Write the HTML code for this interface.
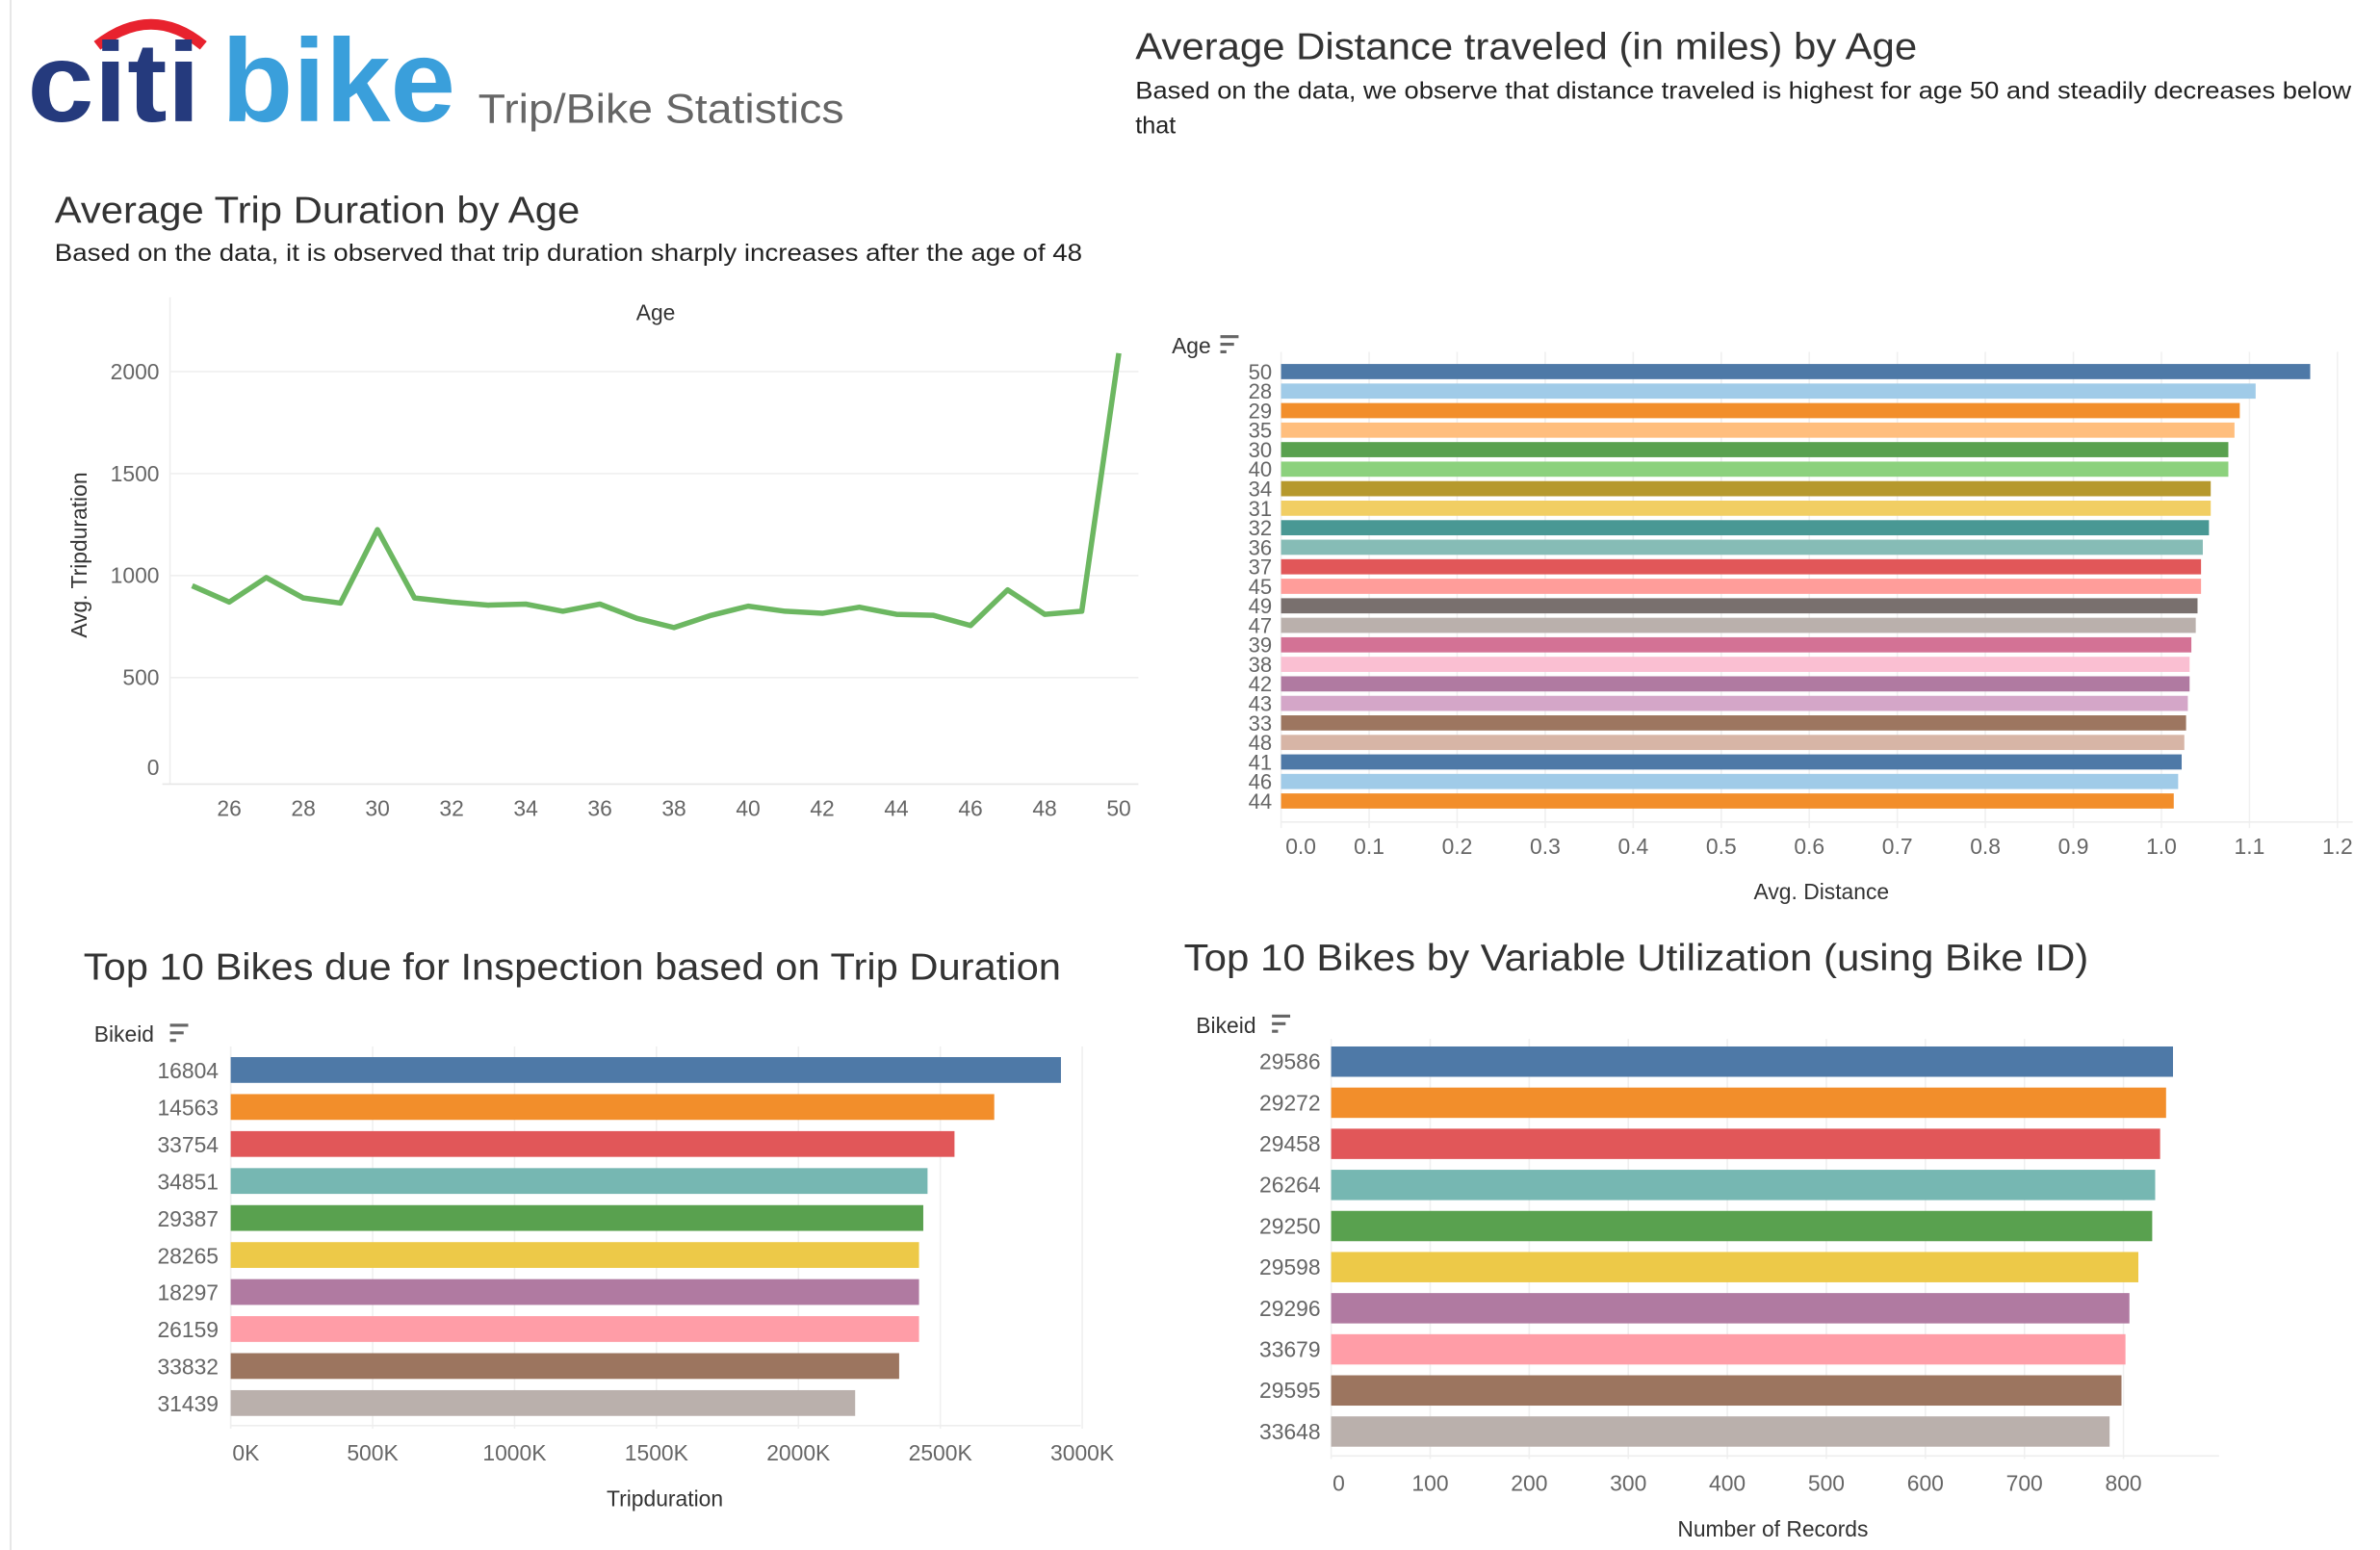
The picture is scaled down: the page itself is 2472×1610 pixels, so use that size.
<!DOCTYPE html>
<html><head><meta charset="utf-8"><style>
html,body{margin:0;padding:0;background:#fff;}
svg{display:block;font-family:"Liberation Sans",sans-serif;}
</style></head><body>
<svg id="root" width="2472" height="1610" viewBox="0 0 1568 1022" preserveAspectRatio="none" xmlns="http://www.w3.org/2000/svg">
<line x1="7" y1="0" x2="7" y2="1022" stroke="#e0e0e0" stroke-width="1"/>
<g>
  <path d="M64 30 Q100 2 134 30" fill="none" stroke="#e8222e" stroke-width="7"/>
  <text x="18" y="80" font-size="74" font-weight="bold" fill="#253a7d" textLength="114" lengthAdjust="spacingAndGlyphs">citi</text>
  <text x="146" y="80" font-size="78" font-weight="bold" fill="#3a9fdb" textLength="154" lengthAdjust="spacingAndGlyphs">bike</text>
</g>
<text x="315" y="81" font-size="27" fill="#666" textLength="241" lengthAdjust="spacingAndGlyphs">Trip/Bike Statistics</text>

<text x="36" y="147" font-size="25" fill="#333" textLength="346" lengthAdjust="spacingAndGlyphs">Average Trip Duration by Age</text>
<text x="36" y="172" font-size="16" fill="#222" textLength="677" lengthAdjust="spacingAndGlyphs">Based on the data, it is observed that trip duration sharply increases after the age of 48</text>

<text x="748" y="39" font-size="25" fill="#333" textLength="515" lengthAdjust="spacingAndGlyphs">Average Distance traveled (in miles) by Age</text>
<text x="748" y="65" font-size="16" fill="#222" textLength="801" lengthAdjust="spacingAndGlyphs">Based on the data, we observe that distance traveled is highest for age 50 and steadily decreases below</text>
<text x="748" y="88" font-size="16" fill="#222">that</text>

<text x="55" y="646" font-size="25" fill="#333" textLength="644" lengthAdjust="spacingAndGlyphs">Top 10 Bikes due for Inspection based on Trip Duration</text>
<text x="780" y="640" font-size="25" fill="#333" textLength="596" lengthAdjust="spacingAndGlyphs">Top 10 Bikes by Variable Utilization (using Bike ID)</text>

<g id="c1"></g><g id="c2"></g><g id="c3"></g><g id="c4"></g>
</svg>
<script>
// Chart 1: line
const ages = [25,26,27,28,29,30,31,32,33,34,35,36,37,38,39,40,41,42,43,44,45,46,47,48,49,50];
const durations = [950,870,990,890,865,1225,890,870,855,860,825,860,790,745,805,850,825,815,845,810,805,755,930,810,825,2090];
const durTicks = [0,500,1000,1500,2000];
const ageTicks = [26,28,30,32,34,36,38,40,42,44,46,48,50];
// Chart 2: distance
const distAges = ['50','28','29','35','30','40','34','31','32','36','37','45','49','47','39','38','42','43','33','48','41','46','44'];
const distances = [1.169,1.107,1.089,1.083,1.076,1.076,1.056,1.056,1.054,1.047,1.045,1.045,1.041,1.039,1.034,1.032,1.032,1.030,1.028,1.026,1.023,1.019,1.014];
const distTicks = [0,0.1,0.2,0.3,0.4,0.5,0.6,0.7,0.8,0.9,1.0,1.1,1.2];
// Chart 3: trip duration by bike
const bikes3 = ['16804','14563','33754','34851','29387','28265','18297','26159','33832','31439'];
const tripDur = [2925000,2690000,2550000,2455000,2440000,2425000,2425000,2425000,2355000,2200000];
const tdTicks = [0,500000,1000000,1500000,2000000,2500000,3000000];
// Chart 4: records by bike
const bikes4 = ['29586','29272','29458','26264','29250','29598','29296','33679','29595','33648'];
const records = [850,843,837,832,829,815,806,802,798,786];
const recTicks = [0,100,200,300,400,500,600,700,800];

const palette = ['#4e79a7','#a0cbe8','#f28e2b','#ffbe7d','#59a14f','#8cd17d','#b6992d','#f1ce63','#499894','#86bcb6','#e15759','#ff9d9a','#79706e','#bab0ac','#d37295','#fabfd2','#b07aa1','#d4a6c8','#9d7660','#d7b5a6'];
const palette10 = ['#4e79a7','#f28e2b','#e15759','#76b7b2','#59a14f','#edc948','#b07aa1','#ff9da7','#9c755f','#bab0ac'];
const NS = 'http://www.w3.org/2000/svg';
function mk(parent, tag, attrs, txt){
  const e = document.createElementNS(NS, tag);
  for (const k in attrs) e.setAttribute(k, attrs[k]);
  if (txt !== undefined) e.textContent = txt;
  parent.appendChild(e); return e;
}

// ---- Chart 1
(function(){
  const g = document.getElementById('c1');
  
  
  const x = a => 126.6 + (a - 25) * 24.42;
  const y = v => 514 - v * 0.1345;
  mk(g,'line',{x1:112,y1:196,x2:112,y2:517,stroke:'#eee'});
  mk(g,'line',{x1:107,y1:517,x2:750,y2:517,stroke:'#e6e6e6'});
  durTicks.forEach(t => {
    if (t > 0) mk(g,'line',{x1:112,y1:y(t),x2:750,y2:y(t),stroke:'#efefef'});
    const lb = mk(g,'text',{x:105,y:y(t)+5 - (t===0?8:0),'font-size':14.5,fill:'#666','text-anchor':'end'}, String(t));
    
    
  });
  ageTicks.forEach(a => {
    const lb = mk(g,'text',{x:x(a),y:538,'font-size':14.5,fill:'#666','text-anchor':'middle'}, String(a));
    
    
  });
  const t1 = mk(g,'text',{x:432,y:211,'font-size':14.5,fill:'#333','text-anchor':'middle'},'Age');
  
  
  const t2 = mk(g,'text',{x:57,y:366,'font-size':14.5,fill:'#333','text-anchor':'middle',transform:'rotate(-90 57 366)'},'Avg. Tripduration');
  
  
  const pts = ages.map((a,i) => x(a)+','+y(durations[i])).join(' ');
  const pl = mk(g,'polyline',{points:pts,fill:'none',stroke:'#6cb761','stroke-width':3.5,'stroke-linejoin':'round'});
  
  
})();

// ---- Chart 2
(function(){
  const g = document.getElementById('c2');
  
  
  const x = v => 844 + v * 580;
  const top = 240, pitch = 12.87, bh = 10;
  distTicks.forEach(t => {
    mk(g,'line',{x1:x(t),y1:232,x2:x(t),y2:546,stroke:'#f0f0f0'});
    const lb = mk(g,'text',{x:x(t)+(t===0?13:0),y:563,'font-size':14.5,fill:'#666','text-anchor':'middle'}, t.toFixed(1));
    
    
  });
  mk(g,'line',{x1:844,y1:542,x2:1550,y2:542,stroke:'#eee'});
  distAges.forEach((a,i) => {
    const r = mk(g,'rect',{x:x(0),y:top+i*pitch,width:x(distances[i])-x(0),height:bh,fill:palette[i%20]});
    
    
    const lb = mk(g,'text',{x:838,y:top+i*pitch+10,'font-size':14,fill:'#666','text-anchor':'end'}, a);
    
    
  });
  const h = mk(g,'text',{x:772,y:233,'font-size':14.5,fill:'#333'},'Age');
  
  
  mk(g,'path',{d:'M804 222h12M804 227h9M804 232h4',stroke:'#666','stroke-width':2});
  const t = mk(g,'text',{x:1200,y:593,'font-size':14.5,fill:'#333','text-anchor':'middle'},'Avg. Distance');
  
  
})();

// ---- Chart 3
(function(){
  const g = document.getElementById('c3');
  
  
  const x = v => 152 + v / 500000 * 93.5;
  const top = 697, pitch = 24.4, bh = 17;
  tdTicks.forEach(t => {
    mk(g,'line',{x1:x(t),y1:690,x2:x(t),y2:942,stroke:'#f0f0f0'});
    const lb = mk(g,'text',{x:x(t)+(t===0?10:0),y:963,'font-size':14.5,fill:'#666','text-anchor':'middle'}, (t/1000)+'K');
    
    
  });
  mk(g,'line',{x1:152,y1:940,x2:712,y2:940,stroke:'#eee'});
  bikes3.forEach((b,i) => {
    const r = mk(g,'rect',{x:x(0),y:top+i*pitch,width:x(tripDur[i])-x(0),height:bh,fill:palette10[i]});
    
    
    const lb = mk(g,'text',{x:144,y:top+i*pitch+14,'font-size':14.5,fill:'#666','text-anchor':'end'}, b);
    
    
  });
  const h = mk(g,'text',{x:62,y:687,'font-size':14.5,fill:'#333'},'Bikeid');
  
  
  mk(g,'path',{d:'M112 676h12M112 681h9M112 686h4',stroke:'#666','stroke-width':2});
  const t = mk(g,'text',{x:438,y:993,'font-size':14.5,fill:'#333','text-anchor':'middle'},'Tripduration');
  
  
})();

// ---- Chart 4
(function(){
  const g = document.getElementById('c4');
  
  
  const x = v => 877 + v * 0.6525;
  const top = 690, pitch = 27.1, bh = 20;
  recTicks.forEach(t => {
    mk(g,'line',{x1:x(t),y1:685,x2:x(t),y2:962,stroke:'#f0f0f0'});
    const lb = mk(g,'text',{x:x(t)+(t===0?5:0),y:983,'font-size':14.5,fill:'#666','text-anchor':'middle'}, String(t));
    
    
  });
  mk(g,'line',{x1:877,y1:960,x2:1462,y2:960,stroke:'#eee'});
  bikes4.forEach((b,i) => {
    const r = mk(g,'rect',{x:x(0),y:top+i*pitch,width:x(records[i])-x(0),height:bh,fill:palette10[i]});
    
    
    const lb = mk(g,'text',{x:870,y:top+i*pitch+15,'font-size':14.5,fill:'#666','text-anchor':'end'}, b);
    
    
  });
  const h = mk(g,'text',{x:788,y:681,'font-size':14.5,fill:'#333'},'Bikeid');
  
  
  mk(g,'path',{d:'M838 670h12M838 675h9M838 680h4',stroke:'#666','stroke-width':2});
  const t = mk(g,'text',{x:1168,y:1013,'font-size':14.5,fill:'#333','text-anchor':'middle'},'Number of Records');
  
  
})();
</script>
</body></html>
